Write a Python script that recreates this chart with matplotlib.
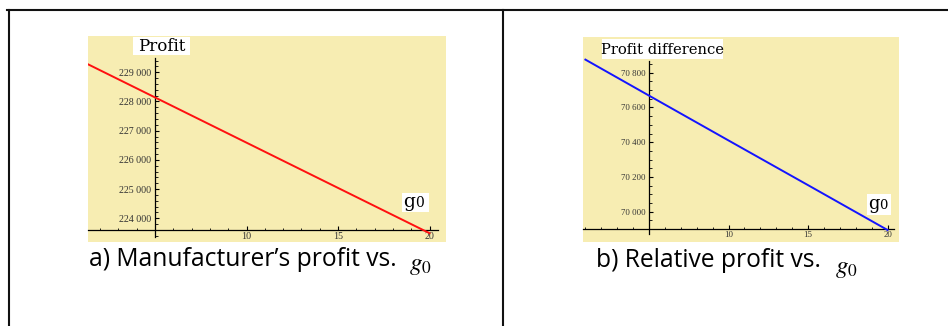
import matplotlib
matplotlib.use("Agg")
import matplotlib.pyplot as plt
from matplotlib.patches import Rectangle
from matplotlib.lines import Line2D
from matplotlib.ticker import FixedLocator, FuncFormatter

W, H = 948, 326

# data
g0_a = [1, 5, 10, 15, 20]
profit_a = [229380, 228140, 226590, 225040, 223490]

g0_b = [1, 5, 10, 15, 20]
profit_diff_b = [70875, 70668, 70410, 70153, 69895]

a_yticks = [224000, 225000, 226000, 227000, 228000, 229000]
b_yticks = [70000, 70200, 70400, 70600, 70800]
x_ticks = [10, 15, 20]

YELLOW = "#F7EDB2"
TICK_COL = "#333333"

plt.rcParams["mathtext.fontset"] = "stix"

fig = plt.figure(figsize=(W / 100, H / 100), dpi=100)
fig.patch.set_facecolor("white")


def fx(x):
    return x / W


def fy(y):
    return 1 - y / H


def add_px_axes(x0, y0, x1, y1):
    return fig.add_axes([fx(x0), fy(y1), (x1 - x0) / W, (y1 - y0) / H])


def thousands(v, pos):
    v = int(round(v))
    return f"{v // 1000} {v % 1000:03d}"


def style_axes(ax, xlim, ylim, x_cross, y_cross, xspan, yspan,
               yticks, yminor, tick_fs):
    ax.set_facecolor(YELLOW)
    ax.set_xlim(*xlim)
    ax.set_ylim(*ylim)
    for s in ["top", "right"]:
        ax.spines[s].set_visible(False)
    ax.spines["left"].set_position(("data", x_cross))
    ax.spines["bottom"].set_position(("data", y_cross))
    ax.spines["left"].set_bounds(*yspan)
    ax.spines["bottom"].set_bounds(*xspan)
    for s in ["left", "bottom"]:
        ax.spines[s].set_linewidth(0.9)
        ax.spines[s].set_color("black")
    ax.xaxis.set_major_locator(FixedLocator(x_ticks))
    ax.xaxis.set_minor_locator(FixedLocator(
        [v for v in range(1, 21) if v not in x_ticks and v != x_cross]))
    ax.yaxis.set_major_locator(FixedLocator(yticks))
    ax.yaxis.set_minor_locator(FixedLocator(yminor))
    ax.yaxis.set_major_formatter(FuncFormatter(thousands))
    ax.tick_params(which="major", direction="in", length=3.2, width=0.8,
                   color="black", labelsize=tick_fs, labelcolor=TICK_COL)
    ax.tick_params(which="minor", direction="in", length=1.8, width=0.6,
                   color="black")
    ax.tick_params(axis="x", pad=1.5)
    ax.tick_params(axis="y", pad=2.5)
    for lab in ax.get_xticklabels() + ax.get_yticklabels():
        lab.set_family("Liberation Serif")


def white_label(x0, y0, x1, y1):
    fig.add_artist(Rectangle((fx(x0), fy(y1)), (x1 - x0) / W, (y1 - y0) / H,
                             transform=fig.transFigure, facecolor="white",
                             edgecolor="none", zorder=5))


# ---- panel a ----
ax1 = add_px_axes(88, 36, 446, 242)
ax1.plot(g0_a, profit_a, color="#FF1010", lw=1.4, zorder=3)
style_axes(ax1, (1.34, 20.9), (223188, 230243), 5, 223600,
           (1.34, 20.46), (223370, 229500), a_yticks,
           [v for v in range(223400, 229600, 200) if v % 1000],
           7.2)

white_label(133, 37, 190, 55)
fig.text(fx(161.5), fy(46.5), "Profit", ha="center", va="center",
         family="DejaVu Serif", fontsize=12, zorder=6)
white_label(402, 193, 429, 212)
fig.text(fx(403.5), fy(207), "g", ha="left", va="baseline",
         family="DejaVu Serif", fontsize=13.5, zorder=6)
fig.text(fx(415.5), fy(207), "0", ha="left", va="baseline",
         family="DejaVu Serif", fontsize=10, zorder=6)

fig.text(fx(89), fy(266.5), "a) Manufacturer\u2019s profit vs.", ha="left",
         va="baseline", family="Open Sans", fontsize=17.7)
fig.text(fx(409), fy(270), r"$g_0$", ha="left", va="baseline", fontsize=18)

# ---- panel b ----
ax2 = add_px_axes(583, 37, 899, 242)
ax2.plot(g0_b, profit_diff_b, color="#1414FF", lw=1.4, zorder=3)
style_axes(ax2, (0.85, 20.72), (69826, 71005), 5, 69900,
           (0.85, 20.4), (69872, 70867), b_yticks,
           [v for v in range(69950, 70900, 50) if v % 200],
           6.3)

white_label(602, 39, 723, 59)
fig.text(fx(662.5), fy(49.5), "Profit difference", ha="center", va="center",
         family="DejaVu Serif", fontsize=10.6, zorder=6)
white_label(867, 194, 891, 215)
fig.text(fx(868), fy(209), "g", ha="left", va="baseline",
         family="DejaVu Serif", fontsize=13, zorder=6)
fig.text(fx(879.5), fy(209), "0", ha="left", va="baseline",
         family="DejaVu Serif", fontsize=9.5, zorder=6)

fig.text(fx(596), fy(267), "b) Relative profit vs.", ha="left",
         va="baseline", family="Open Sans", fontsize=17.7)
fig.text(fx(835), fy(272.5), r"$g_0$", ha="left", va="baseline", fontsize=18)

# table borders
border = dict(color="#111111", lw=1.5, transform=fig.transFigure)
fig.add_artist(Line2D([fx(7), fx(948)], [fy(10), fy(10)], **border))
fig.add_artist(Line2D([fx(8.5), fx(8.5)], [fy(10), fy(326)], **border))
fig.add_artist(Line2D([fx(503), fx(503)], [fy(10), fy(326)], **border))

fig.savefig("out.png", dpi=100, facecolor="white")
plt.close(fig)
